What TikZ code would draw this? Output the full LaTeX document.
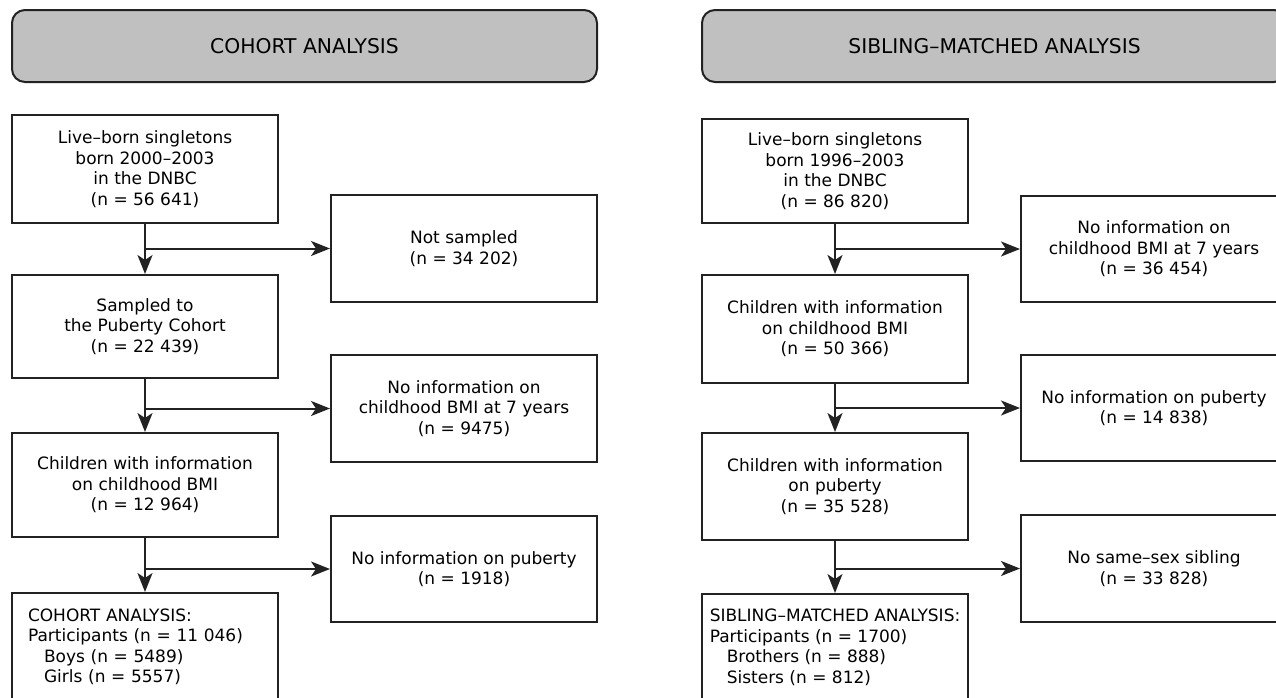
\documentclass[tikz,border=0pt]{standalone}
\usepackage{fontspec}
\setmainfont{DejaVu Sans}
\usepackage{tikz}
\usetikzlibrary{arrows.meta}
\definecolor{headfill}{HTML}{C0C0C0}
\definecolor{linegray}{HTML}{222222}
\tikzset{
  ar/.style={-{Stealth[length=19pt,width=15pt,inset=5pt]},line width=2pt,linegray},
  box/.style={draw=linegray,line width=2pt,fill=white,align=center,minimum width=266pt,inner sep=4pt,font=\fontsize{17pt}{20.5pt}\selectfont},
  head/.style={draw=linegray,line width=2pt,fill=headfill,rounded corners=13pt,minimum width=585pt,minimum height=72pt,font=\fontsize{20.3pt}{24pt}\selectfont}
}
\begin{document}
\begin{tikzpicture}[x=1pt,y=-1pt]
\useasboundingbox (0,0) rectangle (1276,697);
% cohort analysis
\node[head] (lhead) at (304.5,46) {COHORT ANALYSIS};
\node[box,minimum height=108pt] (lb1) at (145,169) {Live–born singletons\\born 2000–2003\\in the DNBC\\(n = 56 641)};
\node[box,minimum height=103pt] (lb2) at (145,326.5) {Sampled to\\the Puberty Cohort\\(n = 22 439)};
\node[box,minimum height=104pt] (lb3) at (145,485) {Children with information\\on childhood BMI\\(n = 12 964)};
\node[box,minimum height=108pt,anchor=north,align=left,text width=234pt,inner xsep=16pt] (lb4) at (145,592) {COHORT ANALYSIS:\\Participants (n = 11 046)\\\hspace*{16pt}Boys (n = 5489)\\\hspace*{16pt}Girls (n = 5557)};
\node[box,minimum height=107pt] (lr1) at (464,248.5) {Not sampled\\(n = 34 202)};
\node[box,minimum height=107pt] (lr2) at (464,408.5) {No information on\\childhood BMI at 7 years\\(n = 9475)};
\node[box,minimum height=106pt] (lr3) at (464,569) {No information on puberty\\(n = 1918)};
\draw[ar] (lb1.south) -- (lb2.north);
\draw[ar] (lb2.south) -- (lb3.north);
\draw[ar] (lb3.south) -- (lb4.north);
\draw[ar] (lb1.south |- lr1.west) -- (lr1.west);
\draw[ar] (lb2.south |- lr2.west) -- (lr2.west);
\draw[ar] (lb3.south |- lr3.west) -- (lr3.west);
% sibling-matched analysis
\node[head] (rhead) at (994.5,46) {SIBLING–MATCHED ANALYSIS};
\node[box,minimum height=104pt] (rb1) at (835,171) {Live–born singletons\\born 1996–2003\\in the DNBC\\(n = 86 820)};
\node[box,minimum height=108pt] (rb2) at (835,329) {Children with information\\on childhood BMI\\(n = 50 366)};
\node[box,minimum height=107pt] (rb3) at (835,486.5) {Children with information\\on puberty\\(n = 35 528)};
\node[box,minimum height=107pt,anchor=north,align=left] (rb4) at (835,593) {SIBLING–MATCHED ANALYSIS:\\Participants (n = 1700)\\\hspace*{17pt}Brothers (n = 888)\\\hspace*{17pt}Sisters (n = 812)};
\node[box,minimum height=106pt] (rr1) at (1154,249) {No information on\\childhood BMI at 7 years\\(n = 36 454)};
\node[box,minimum height=106pt] (rr2) at (1154,408) {No information on puberty\\(n = 14 838)};
\node[box,minimum height=107pt] (rr3) at (1154,568.5) {No same–sex sibling\\(n = 33 828)};
\draw[ar] (rb1.south) -- (rb2.north);
\draw[ar] (rb2.south) -- (rb3.north);
\draw[ar] (rb3.south) -- (rb4.north);
\draw[ar] (rb1.south |- rr1.west) -- (rr1.west);
\draw[ar] (rb2.south |- rr2.west) -- (rr2.west);
\draw[ar] (rb3.south |- rr3.west) -- (rr3.west);
\end{tikzpicture}
\end{document}
